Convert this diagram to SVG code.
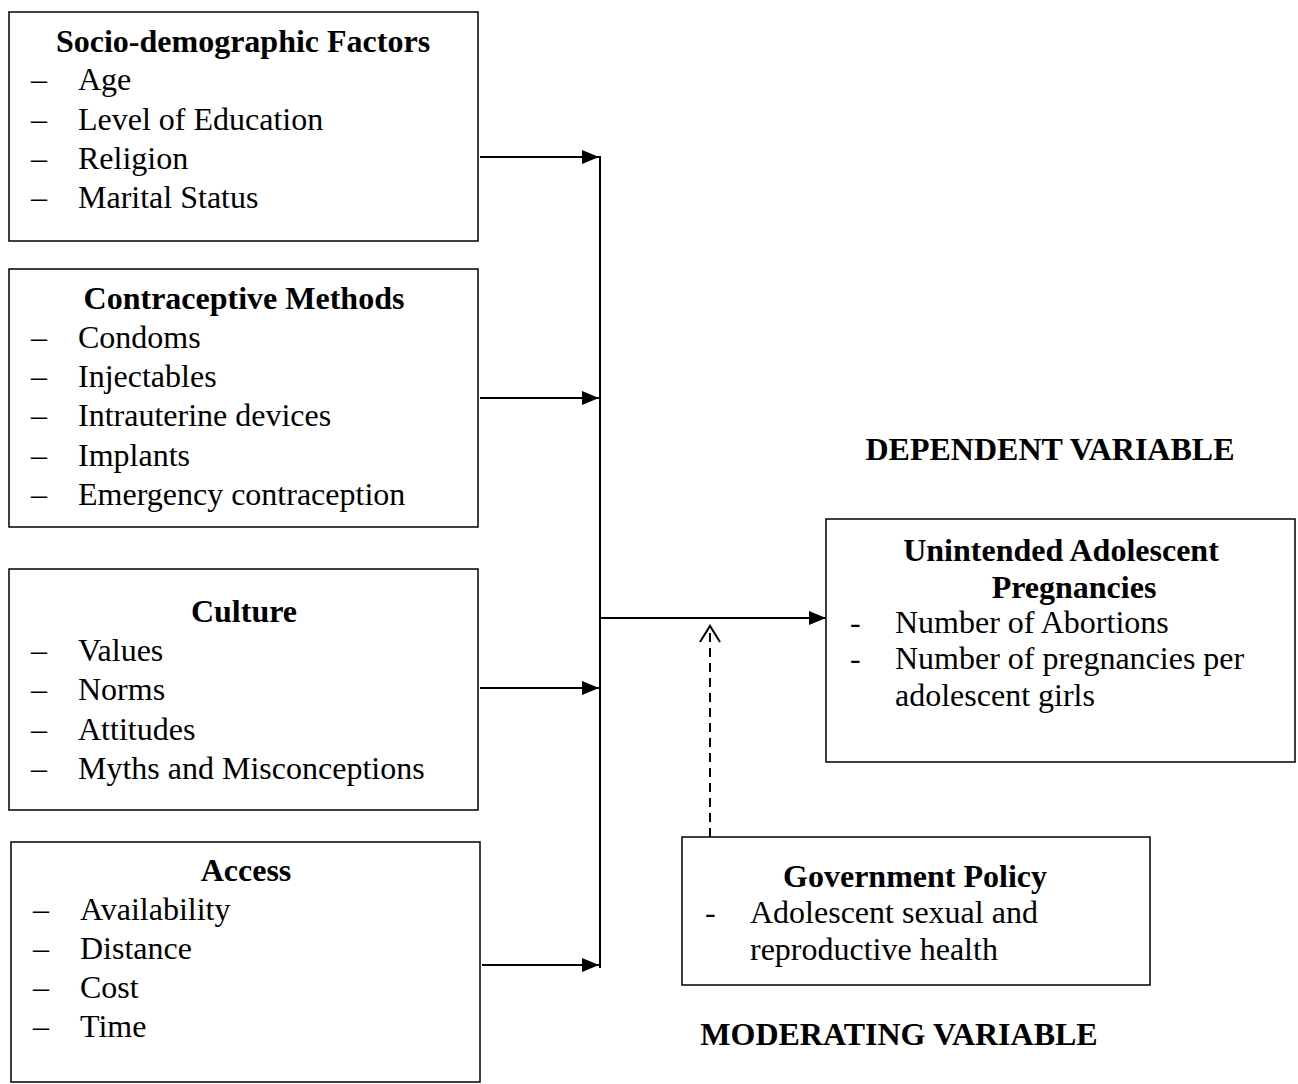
<svg xmlns="http://www.w3.org/2000/svg" width="1298" height="1084" viewBox="0 0 1298 1084">
<style>
.box{fill:#fff;stroke:#000;stroke-width:1.5}
text{font-family:"Liberation Serif","Times New Roman",serif;font-size:32px;fill:#000}
.t{font-weight:bold;text-anchor:middle}
.ln{stroke:#000;stroke-width:2;fill:none}
.dash{stroke:#000;stroke-width:2;fill:none;stroke-dasharray:9 6}
</style>
<defs>
<marker id="ah" markerUnits="userSpaceOnUse" markerWidth="18" markerHeight="16" refX="17" refY="8" orient="auto">
<path d="M0,1 L17,8 L0,15 Z" fill="#000"/>
</marker>
<marker id="oh" markerUnits="userSpaceOnUse" markerWidth="22" markerHeight="24" refX="17" refY="11" orient="auto">
<path d="M1,1 L17,11 L1,21" fill="none" stroke="#000" stroke-width="2"/>
</marker>
</defs>

<g id="connectors">
<line class="ln" x1="600" y1="156" x2="600" y2="968"/>
<line class="ln" x1="480" y1="157" x2="599" y2="157" marker-end="url(#ah)"/>
<line class="ln" x1="480" y1="398" x2="599" y2="398" marker-end="url(#ah)"/>
<line class="ln" x1="480" y1="688" x2="599" y2="688" marker-end="url(#ah)"/>
<line class="ln" x1="482" y1="965" x2="599" y2="965" marker-end="url(#ah)"/>
<line class="ln" x1="600" y1="618" x2="826" y2="618" marker-end="url(#ah)"/>
<line class="dash" x1="710" y1="837" x2="710" y2="626" marker-end="url(#oh)"/>
</g>

<g id="socio">
<rect class="box" x="9" y="12" width="469" height="229"/>
<text class="t" x="243" y="52">Socio-demographic Factors</text>
<text x="31" y="90">–</text><text x="78" y="90">Age</text>
<text x="31" y="130">–</text><text x="78" y="130">Level of Education</text>
<text x="31" y="169">–</text><text x="78" y="169">Religion</text>
<text x="31" y="208">–</text><text x="78" y="208">Marital Status</text>
</g>

<g id="contraceptive">
<rect class="box" x="9" y="269" width="469" height="258"/>
<text class="t" x="244" y="309">Contraceptive Methods</text>
<text x="31" y="348">–</text><text x="78" y="348">Condoms</text>
<text x="31" y="387">–</text><text x="78" y="387">Injectables</text>
<text x="31" y="426">–</text><text x="78" y="426">Intrauterine devices</text>
<text x="31" y="466">–</text><text x="78" y="466">Implants</text>
<text x="31" y="505">–</text><text x="78" y="505">Emergency contraception</text>
</g>

<g id="culture">
<rect class="box" x="9" y="569" width="469" height="241"/>
<text class="t" x="244" y="622">Culture</text>
<text x="31" y="661">–</text><text x="78" y="661">Values</text>
<text x="31" y="700">–</text><text x="78" y="700">Norms</text>
<text x="31" y="740">–</text><text x="78" y="740">Attitudes</text>
<text x="31" y="779">–</text><text x="78" y="779">Myths and Misconceptions</text>
</g>

<g id="access">
<rect class="box" x="11" y="842" width="469" height="240"/>
<text class="t" x="246" y="881">Access</text>
<text x="33" y="920">–</text><text x="80" y="920">Availability</text>
<text x="33" y="959">–</text><text x="80" y="959">Distance</text>
<text x="33" y="998">–</text><text x="80" y="998">Cost</text>
<text x="33" y="1037">–</text><text x="80" y="1037">Time</text>
</g>

<g id="dependent-label">
<text class="t" x="1050" y="460">DEPENDENT VARIABLE</text>
</g>

<g id="unintended">
<rect class="box" x="826" y="519" width="469" height="243"/>
<text class="t" x="1061" y="561">Unintended Adolescent</text>
<text class="t" x="1074" y="598">Pregnancies</text>
<text x="850" y="633">-</text><text x="895" y="633">Number of Abortions</text>
<text x="850" y="669">-</text><text x="895" y="669">Number of pregnancies per</text>
<text x="895" y="706">adolescent girls</text>
</g>

<g id="government">
<rect class="box" x="682" y="837" width="468" height="148"/>
<text class="t" x="915" y="887">Government Policy</text>
<text x="705" y="923">-</text><text x="750" y="923">Adolescent sexual and</text>
<text x="750" y="960">reproductive health</text>
</g>

<g id="moderating-label">
<text class="t" x="899" y="1045">MODERATING VARIABLE</text>
</g>
</svg>
